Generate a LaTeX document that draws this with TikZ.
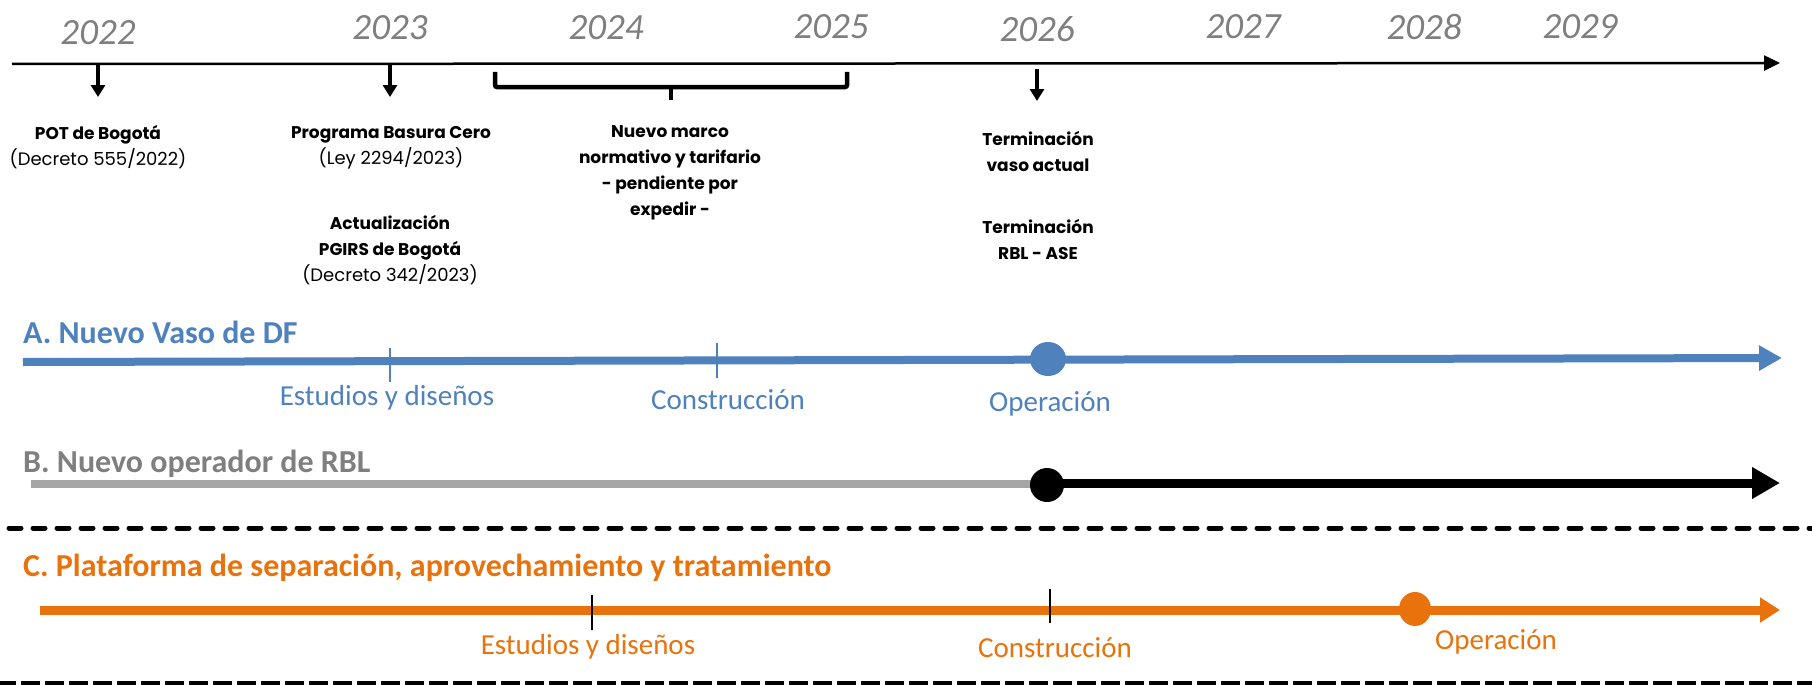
\documentclass[tikz,border=0pt]{standalone}
\usepackage{fontspec}
\setmainfont{Carlito}
\newfontfamily\gothic{Poppins}
\usetikzlibrary{arrows.meta}
\definecolor{cblue}{HTML}{4F81BD}
\definecolor{cgray}{HTML}{7F7F7F}
\definecolor{lgray}{HTML}{A6A6A6}
\definecolor{corange}{HTML}{E8720C}
\newcommand{\rg}[1]{{\fontsize{18}{26}\selectfont\mdseries #1}}
\begin{document}
\begin{tikzpicture}[x=1pt,y=-1pt,
  year/.style={font=\fontsize{37}{40}\selectfont\itshape, text=cgray, inner sep=0pt},
  evtb/.style={font=\gothic\bfseries\fontsize{17}{26}\selectfont, align=center, inner sep=0pt},
  title/.style={font=\bfseries\fontsize{32}{36}\selectfont, anchor=west, inner sep=0pt},
  phase/.style={font=\fontsize{29}{32}\selectfont, inner sep=0pt},
  dnarrow/.style={line width=3.5pt, -{Triangle[length=12pt,width=14pt]}},
  tick/.style={line width=1.5pt},
  sep/.style={line width=5pt, line cap=round, dash pattern=on 12pt off 12pt}]
\useasboundingbox (0,0) rectangle (1812,685);

% main axis
\coordinate (ax0) at (12,64);
\coordinate (ax1) at (1780,63);
\draw[line width=2.5pt, -{Triangle[length=16pt,width=15pt]}] (ax0) -- (ax1);

% years
\node[year] (y22) at (98,33) {2022};
\node[year] (y23) at (390,28) {2023};
\node[year] (y24) at (606,28) {2024};
\node[year] (y25) at (831,27) {2025};
\node[year] (y26) at (1037,29) {2026};
\node[year] (y27) at (1243,27) {2027};
\node[year] (y28) at (1424,27) {2028};
\node[year] (y29) at (1580,27) {2029};

% down arrows
\coordinate (a22s) at (98,65);  \coordinate (a22e) at (98,97);
\coordinate (a23s) at (390,65); \coordinate (a23e) at (390,97);
\coordinate (a26s) at (1037,69); \coordinate (a26e) at (1037,101);
\draw[dnarrow] (a22s) -- (a22e);
\draw[dnarrow] (a23s) -- (a23e);
\draw[dnarrow] (a26s) -- (a26e);

% bracket
\coordinate (bl) at (495,72);
\coordinate (br) at (847,72);
\coordinate (bm) at (671,87);
\coordinate (bt) at (671,100);
\draw[line width=4.5pt, rounded corners=2pt] (bl) |- (bm) -| (br);
\draw[line width=4.5pt] (bm) -- (bt);

% event texts
\node[evtb] (pot) at (98,147) {POT de Bogotá\\\rg{(Decreto 555/2022)}};
\node[evtb] (pbc) at (391,148) {Programa Basura Cero\\\rg{(Ley 2294/2023)}};
\node[evtb] (pgirs) at (390,250) {Actualización\\PGIRS de Bogotá\\\rg{(Decreto 342/2023)}};
\node[evtb] (marco) at (670,173) {Nuevo marco\\normativo y tarifario\\- pendiente por\\expedir -};
\node[evtb] (term1) at (1038,151) {Terminación\\ vaso actual};
\node[evtb] (term2) at (1038,239) {Terminación\\ RBL - ASE};

% A
\node[title, text=cblue] (tA) at (23,332) {A. Nuevo Vaso de DF};
\coordinate (A0) at (23,362);
\coordinate (A1) at (1782,358);
\draw[line width=8pt, cblue, -{Triangle[length=23pt,width=24pt]}] (A0) -- (A1);
\coordinate (tA1s) at (390,348); \coordinate (tA1e) at (390,382);
\coordinate (tA2s) at (717,343); \coordinate (tA2e) at (717,378);
\draw[tick, cblue] (tA1s) -- (tA1e);
\draw[tick, cblue] (tA2s) -- (tA2e);
\fill[cblue] (1048,359) ellipse [x radius=18pt, y radius=17pt];
\node[phase, text=cblue] (pA1) at (387,398) {Estudios y diseños};
\node[phase, text=cblue] (pA2) at (728,400) {Construcción};
\node[phase, text=cblue] (pA3) at (1050,404) {Operación};

% B
\node[title, text=cgray] (tB) at (23,464) {B. Nuevo operador de RBL};
\coordinate (B0) at (31,484);
\coordinate (Bm) at (1047,484);
\coordinate (Bm2) at (1047,483);
\coordinate (B1) at (1780,483);
\draw[line width=8pt, lgray] (B0) -- (Bm);
\draw[line width=9pt, black, -{Triangle[length=28pt,width=30pt]}] (Bm2) -- (B1);
\fill[black] (1047,485) ellipse [x radius=17pt, y radius=17pt];

% separator 1
\coordinate (s1a) at (9,528);
\coordinate (s1b) at (1812,528);
\draw[sep] (s1a) -- (s1b);

% C
\node[title, text=corange] (tC) at (23,568) {C. Plataforma de separación, aprovechamiento y tratamiento};
\coordinate (C0) at (40,610);
\coordinate (C1) at (1780,610);
\draw[line width=9pt, corange, -{Triangle[length=20pt,width=24pt]}] (C0) -- (C1);
\coordinate (tC1s) at (592,595); \coordinate (tC1e) at (592,630);
\coordinate (tC2s) at (1050,589); \coordinate (tC2e) at (1050,623);
\draw[tick] (tC1s) -- (tC1e);
\draw[tick] (tC2s) -- (tC2e);
\fill[corange] (1415,609) ellipse [x radius=16pt, y radius=17pt];
\node[phase, text=corange] (pC1) at (588,647) {Estudios y diseños};
\node[phase, text=corange] (pC2) at (1055,648) {Construcción};
\node[phase, text=corange] (pC3) at (1496,642) {Operación};

% separator 2
\coordinate (s2a) at (-3,684);
\coordinate (s2b) at (1812,684);
\draw[line width=6pt, dash pattern=on 19pt off 5pt] (s2a) -- (s2b);
\end{tikzpicture}
\end{document}
